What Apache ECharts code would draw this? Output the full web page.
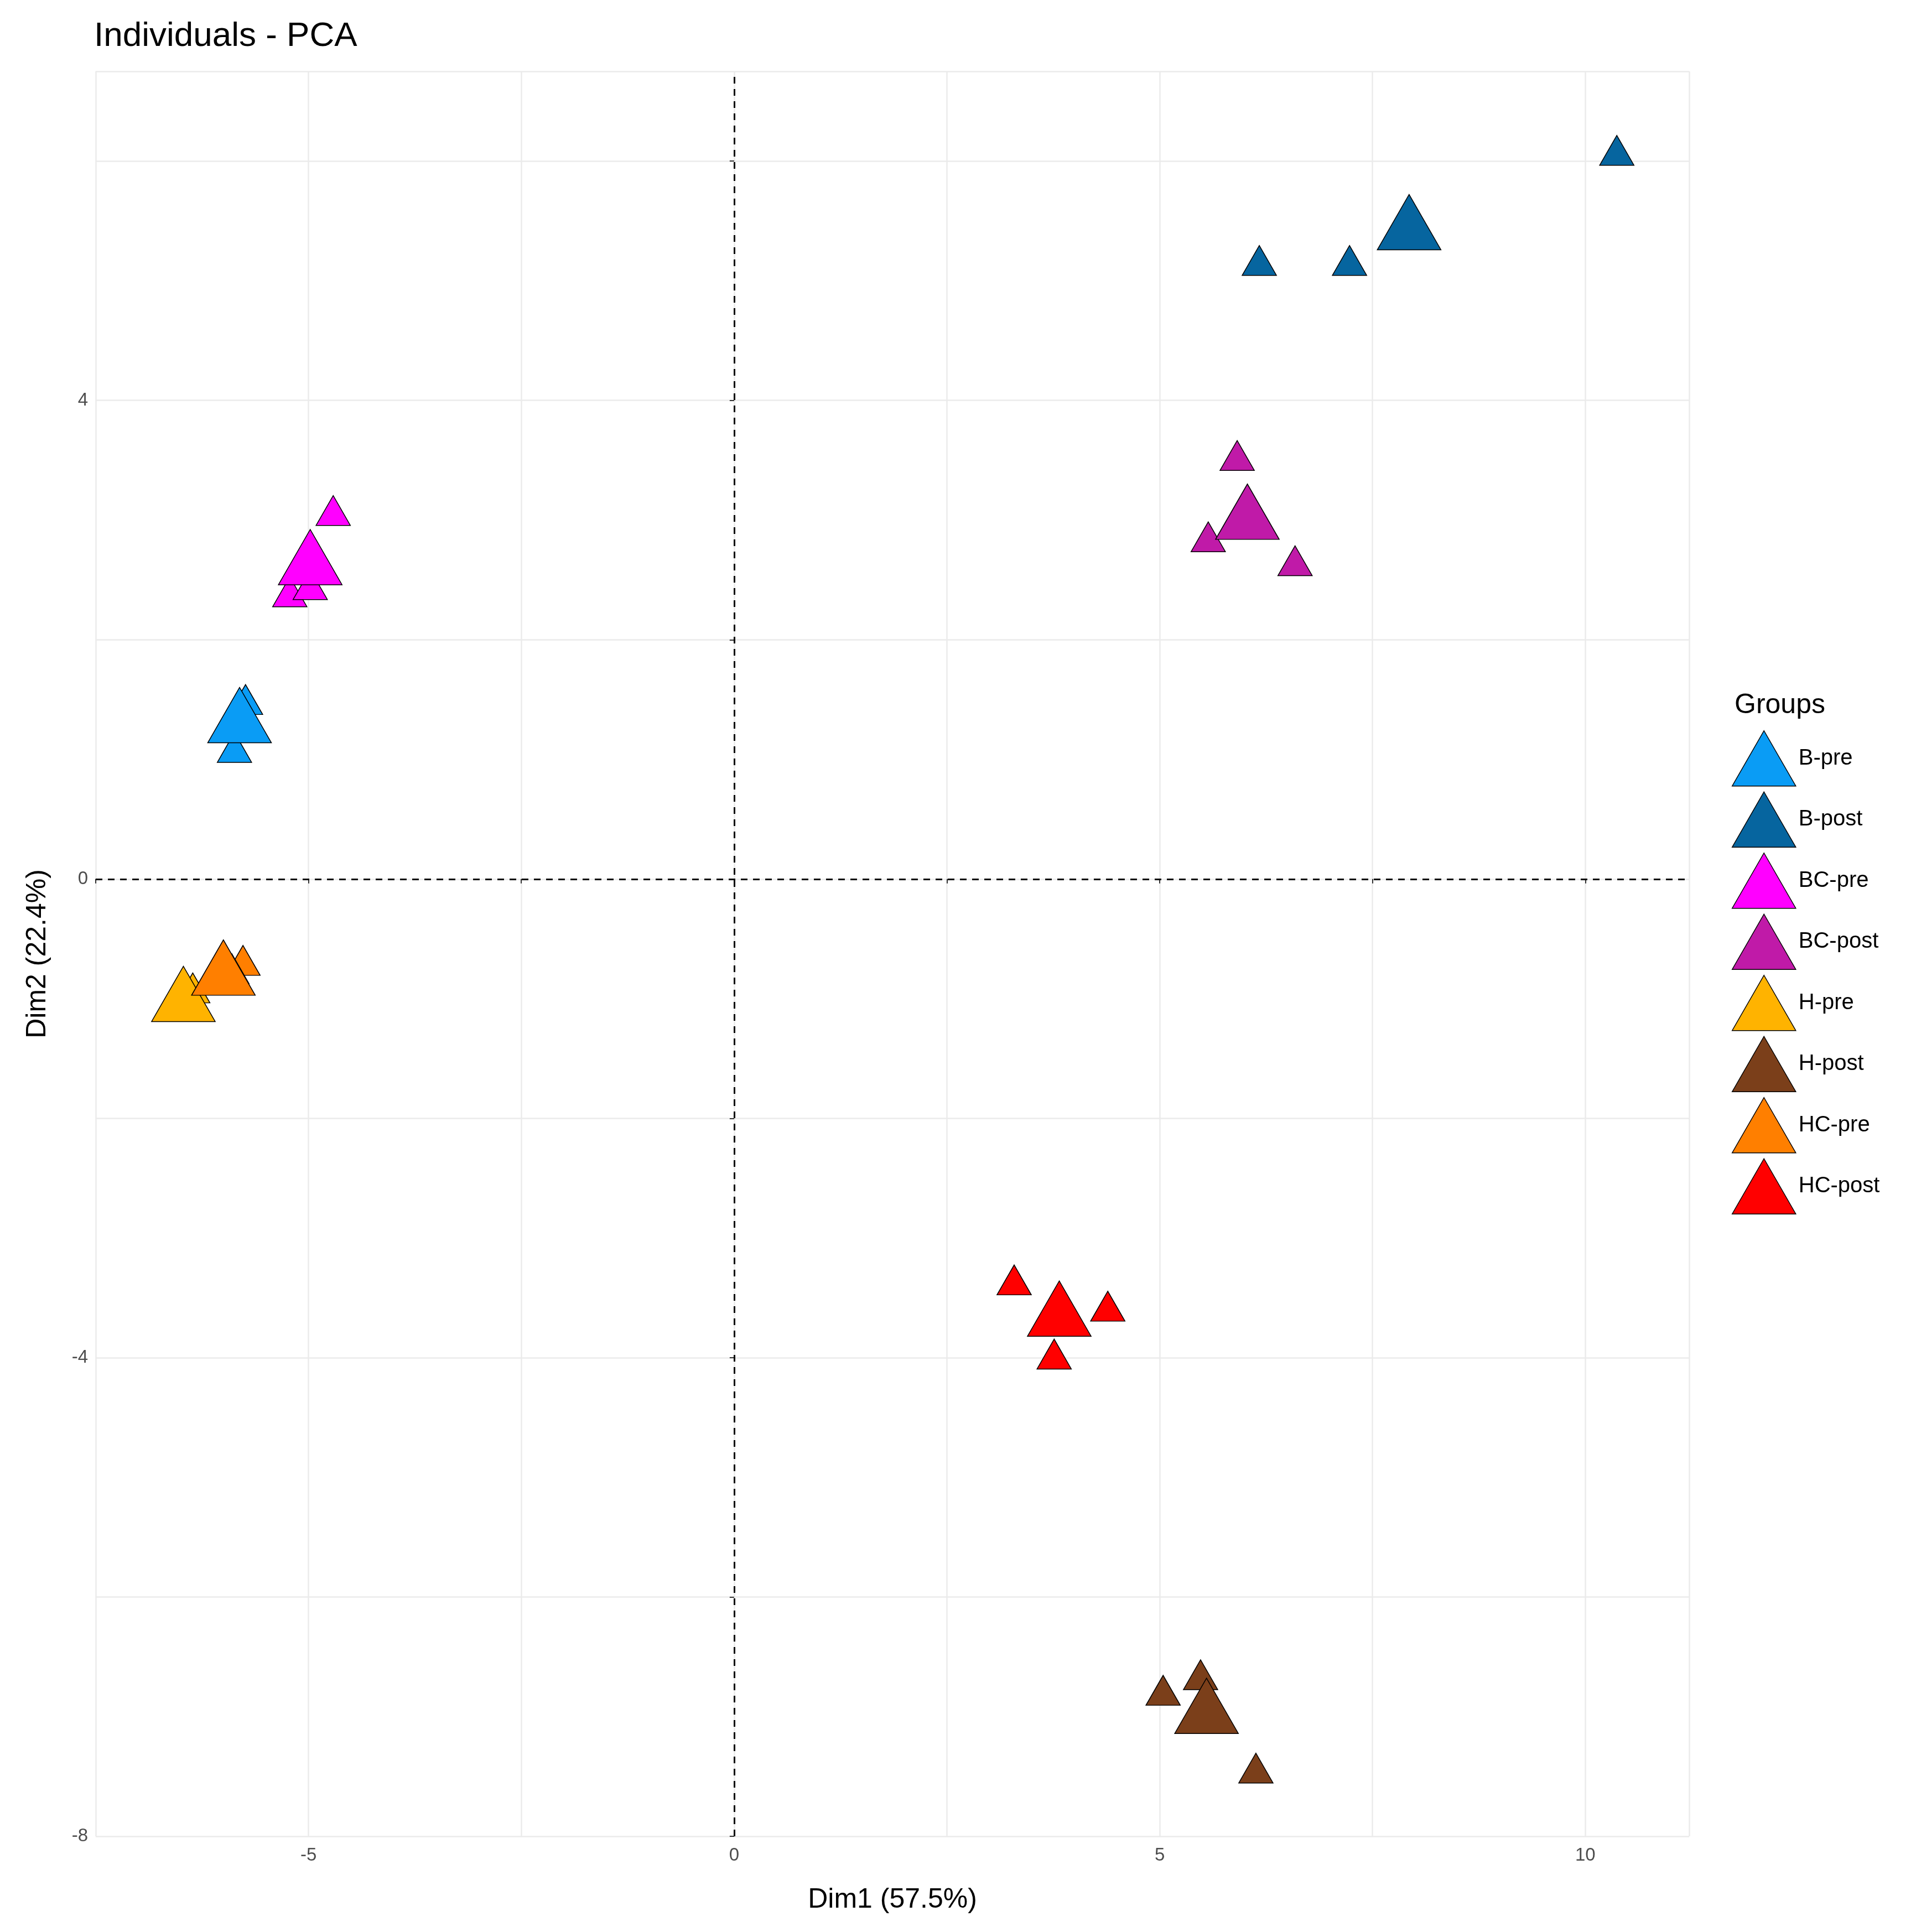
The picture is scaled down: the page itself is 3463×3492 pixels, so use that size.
<!DOCTYPE html>
<html lang="en">
<head>
    <meta charset="UTF-8">
    <title>Individuals - PCA</title>
    <script src="https://cdn.jsdelivr.net/npm/echarts@6/dist/echarts.min.js"></script>
</head>
<body style="margin:0;background:#fff">
    <div id="chart" style="width: 3463px; height: 3492px;"></div>
    <script>
        const groups = ['B-pre', 'B-post', 'BC-pre', 'BC-post', 'H-pre', 'H-post', 'HC-pre', 'HC-post'];
        const colors = ['#0A9CF5', '#06659F', '#FF00FF', '#C01AA8', '#FFB300', '#7B3F1A', '#FF7F00', '#FF0000'];
        // group centroids (big triangles)
        const means = [
            [-5.81, 1.37], [7.93, 5.49], [-4.98, 2.69], [6.03, 3.07],
            [-6.47, -0.96], [5.55, -6.91], [-6.0, -0.74], [3.82, -3.59]
        ];
        // individuals (small triangles)
        const individuals = [
            [[-5.74, 1.5], [-5.87, 1.1], [-5.8, 1.3]],
            [[10.37, 6.09], [6.17, 5.17], [7.23, 5.17]],
            [[-4.71, 3.08], [-5.22, 2.4], [-4.98, 2.46]],
            [[5.91, 3.54], [5.57, 2.86], [6.59, 2.66]],
            [[-6.36, -0.91], [-6.5, -1.0], [-6.4, -0.95]],
            [[5.48, -6.65], [5.04, -6.78], [6.13, -7.43]],
            [[-5.77, -0.68], [-6.05, -0.8], [-5.9, -0.75]],
            [[3.29, -3.35], [4.39, -3.57], [3.76, -3.97]]
        ];

        const chart = echarts.init(document.getElementById('chart'));
        const series = [];
        groups.forEach((g, i) => {
            const style = { color: colors[i], borderColor: '#000', borderWidth: 1.5, opacity: 1 };
            series.push({
                name: g, type: 'scatter', symbol: 'triangle', symbolSize: [62, 54],
                itemStyle: style, data: individuals[i], z: 3
            });
            series.push({
                name: g, type: 'scatter', symbol: 'triangle', symbolSize: [115, 100],
                itemStyle: style, data: [means[i]], z: 4
            });
        });
        // dashed reference lines through the origin
        series.push({
            type: 'scatter', data: [], silent: true,
            markLine: {
                symbol: 'none', silent: true, label: { show: false },
                lineStyle: { color: '#000', type: [12, 10], width: 3 },
                data: [{ xAxis: 0 }, { yAxis: 0 }]
            }
        });

        const gridLine = { show: true, lineStyle: { color: '#ebebeb', width: 2.5 } };
        chart.setOption({
            animation: false,
            backgroundColor: '#fff',
            title: [
                { text: 'Individuals - PCA', left: 165, top: 30, textStyle: { fontSize: 62, fontWeight: 'normal', color: '#000', fontFamily: 'Liberation Sans' } },
                { text: 'Groups', left: 3130, top: 1245, textStyle: { fontSize: 50, fontWeight: 'normal', color: '#000', fontFamily: 'Liberation Sans' } }
            ],
            legend: {
                data: groups, orient: 'vertical', left: 3125, top: 1315,
                icon: 'triangle', itemWidth: 115, itemHeight: 100, itemGap: 9,
                itemStyle: { borderColor: '#000', borderWidth: 1.5 },
                textStyle: { fontSize: 40, color: '#000', fontFamily: 'Liberation Sans' }
            },
            grid: { left: 173, right: 410, top: 129, bottom: 173 },
            xAxis: {
                type: 'value', min: -7.5, max: 11.22, interval: 2.5,
                name: 'Dim1 (57.5%)', nameLocation: 'middle', nameGap: 90,
                nameTextStyle: { fontSize: 50, color: '#000', fontFamily: 'Liberation Sans' },
                axisLine: { show: false },
                axisTick: { show: true, length: 8, lineStyle: { color: '#333', width: 2 }, alignWithLabel: true },
                axisLabel: {
                    fontSize: 33, color: '#4d4d4d', margin: 18, showMaxLabel: false,
                    formatter: v => (Math.abs(v % 5) < 1e-9 ? String(v) : '')
                },
                splitLine: gridLine
            },
            yAxis: {
                type: 'value', min: -8, max: 6.75, interval: 2,
                name: 'Dim2 (22.4%)', nameLocation: 'middle', nameGap: 80,
                nameTextStyle: { fontSize: 50, color: '#000', fontFamily: 'Liberation Sans' },
                axisLine: { show: false },
                axisTick: { show: true, length: 8, lineStyle: { color: '#333', width: 2 } },
                axisLabel: {
                    fontSize: 33, color: '#4d4d4d', margin: 14, showMaxLabel: false,
                    formatter: v => (Math.abs(v % 4) < 1e-9 ? String(v) : '')
                },
                splitLine: gridLine
            },
            series: series
        });
    </script>
</body>
</html>
